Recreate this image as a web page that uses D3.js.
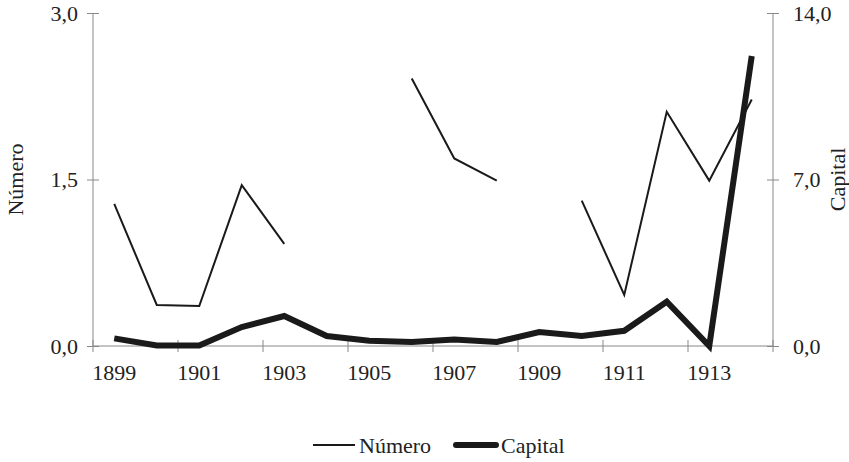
<!DOCTYPE html>
<html><head><meta charset="utf-8">
<script src="https://cdn.jsdelivr.net/npm/d3@7"></script>
<style>body{margin:0;background:#fff}svg{display:block}text{font-family:"Liberation Serif","Times New Roman",serif;fill:#222}</style>
</head><body><svg id="c" width="849" height="462"></svg>
<script>
const years = [1899,1900,1901,1902,1903,1904,1905,1906,1907,1908,1909,1910,1911,1912,1913,1914];
const numero = [1.28,0.37,0.36,1.45,0.92,null,null,2.41,1.69,1.49,null,1.31,0.46,2.11,1.49,2.22];
const capital = [0.32,0.02,0.02,0.80,1.26,0.42,0.22,0.17,0.27,0.17,0.59,0.42,0.64,1.86,0.0,12.19];
const leftTicks = [0,1.5,3];
const rightTicks = [0,7,14];
const xLabels = [1899,1901,1903,1905,1907,1909,1911,1913];

const svg = d3.select("#c");
const L=93,R=773,T=13,B=346;
const FS="22px";
const x = d3.scaleBand().domain(years).range([L,R]);
const yL = d3.scaleLinear().domain([0,3]).range([B,T]);
const yR = d3.scaleLinear().domain([0,14]).range([B,T]);
const fmt = d => d.toFixed(1).replace(".",",");
const axisCol="#888";

const gl = svg.append("g").attr("transform",`translate(${L},0)`)
  .call(d3.axisLeft(yL).tickValues(leftTicks).tickFormat(fmt).tickSize(6).tickPadding(9));
gl.selectAll(".tick line").attr("x2",6).attr("x1",-6);
const gr = svg.append("g").attr("transform",`translate(${R},0)`)
  .call(d3.axisRight(yR).tickValues(rightTicks).tickFormat(fmt).tickSize(6).tickPadding(14));
gr.selectAll(".tick line").attr("x1",-6).attr("x2",6);
const gx = svg.append("g").attr("transform",`translate(0,${B})`);
gx.append("line").attr("x1",L).attr("x2",R).attr("stroke",axisCol);
const tickPos = d3.range(0,years.length+1,2).map(i=> L + i*x.step());
gx.selectAll("line.t").data(tickPos).join("line").attr("class","t")
  .attr("x1",d=>d).attr("x2",d=>d).attr("y1",-6).attr("y2",6).attr("stroke",axisCol);
gx.selectAll("text").data(xLabels).join("text")
  .attr("x",d=>x(d)+x.bandwidth()/2).attr("y",34).attr("text-anchor","middle")
  .style("font-size",FS).text(d=>d);

[gl,gr].forEach(g=>{
  g.select(".domain").attr("stroke",axisCol).attr("d",`M0,${T}V${B}`);
  g.selectAll(".tick line").attr("stroke",axisCol);
  g.selectAll(".tick text").style("font-size",FS).attr("fill","#222").style("font-family","Liberation Serif");
});

const cx = d => x(d)+x.bandwidth()/2;
const lineN = d3.line().defined(d=>d.v!=null).x(d=>cx(d.y)).y(d=>yL(d.v));
const lineC = d3.line().x(d=>cx(d.y)).y(d=>yR(d.v));
svg.append("path").datum(years.map((y,i)=>({y,v:capital[i]})))
  .attr("d",lineC).attr("fill","none").attr("stroke","#1a1a1a").attr("stroke-width",6).attr("stroke-linejoin","miter");
svg.append("path").datum(years.map((y,i)=>({y,v:numero[i]})))
  .attr("d",lineN).attr("fill","none").attr("stroke","#1a1a1a").attr("stroke-width",2);

svg.append("text").attr("transform",`translate(23,${(T+B)/2}) rotate(-90)`).attr("text-anchor","middle")
  .style("font-size",FS).text("Número");
svg.append("text").attr("transform",`translate(845,${(T+B)/2}) rotate(-90)`).attr("text-anchor","middle")
  .style("font-size",FS).text("Capital");

const lg = svg.append("g");
lg.append("line").attr("x1",313).attr("x2",355).attr("y1",445).attr("y2",445).attr("stroke","#1a1a1a").attr("stroke-width",2);
lg.append("text").attr("x",359).attr("y",453).style("font-size",FS).text("Número");
lg.append("line").attr("x1",456).attr("x2",496).attr("y1",445).attr("y2",445).attr("stroke","#1a1a1a").attr("stroke-width",6).attr("stroke-linecap","round");
lg.append("text").attr("x",501).attr("y",453).style("font-size",FS).text("Capital");
</script></body></html>
